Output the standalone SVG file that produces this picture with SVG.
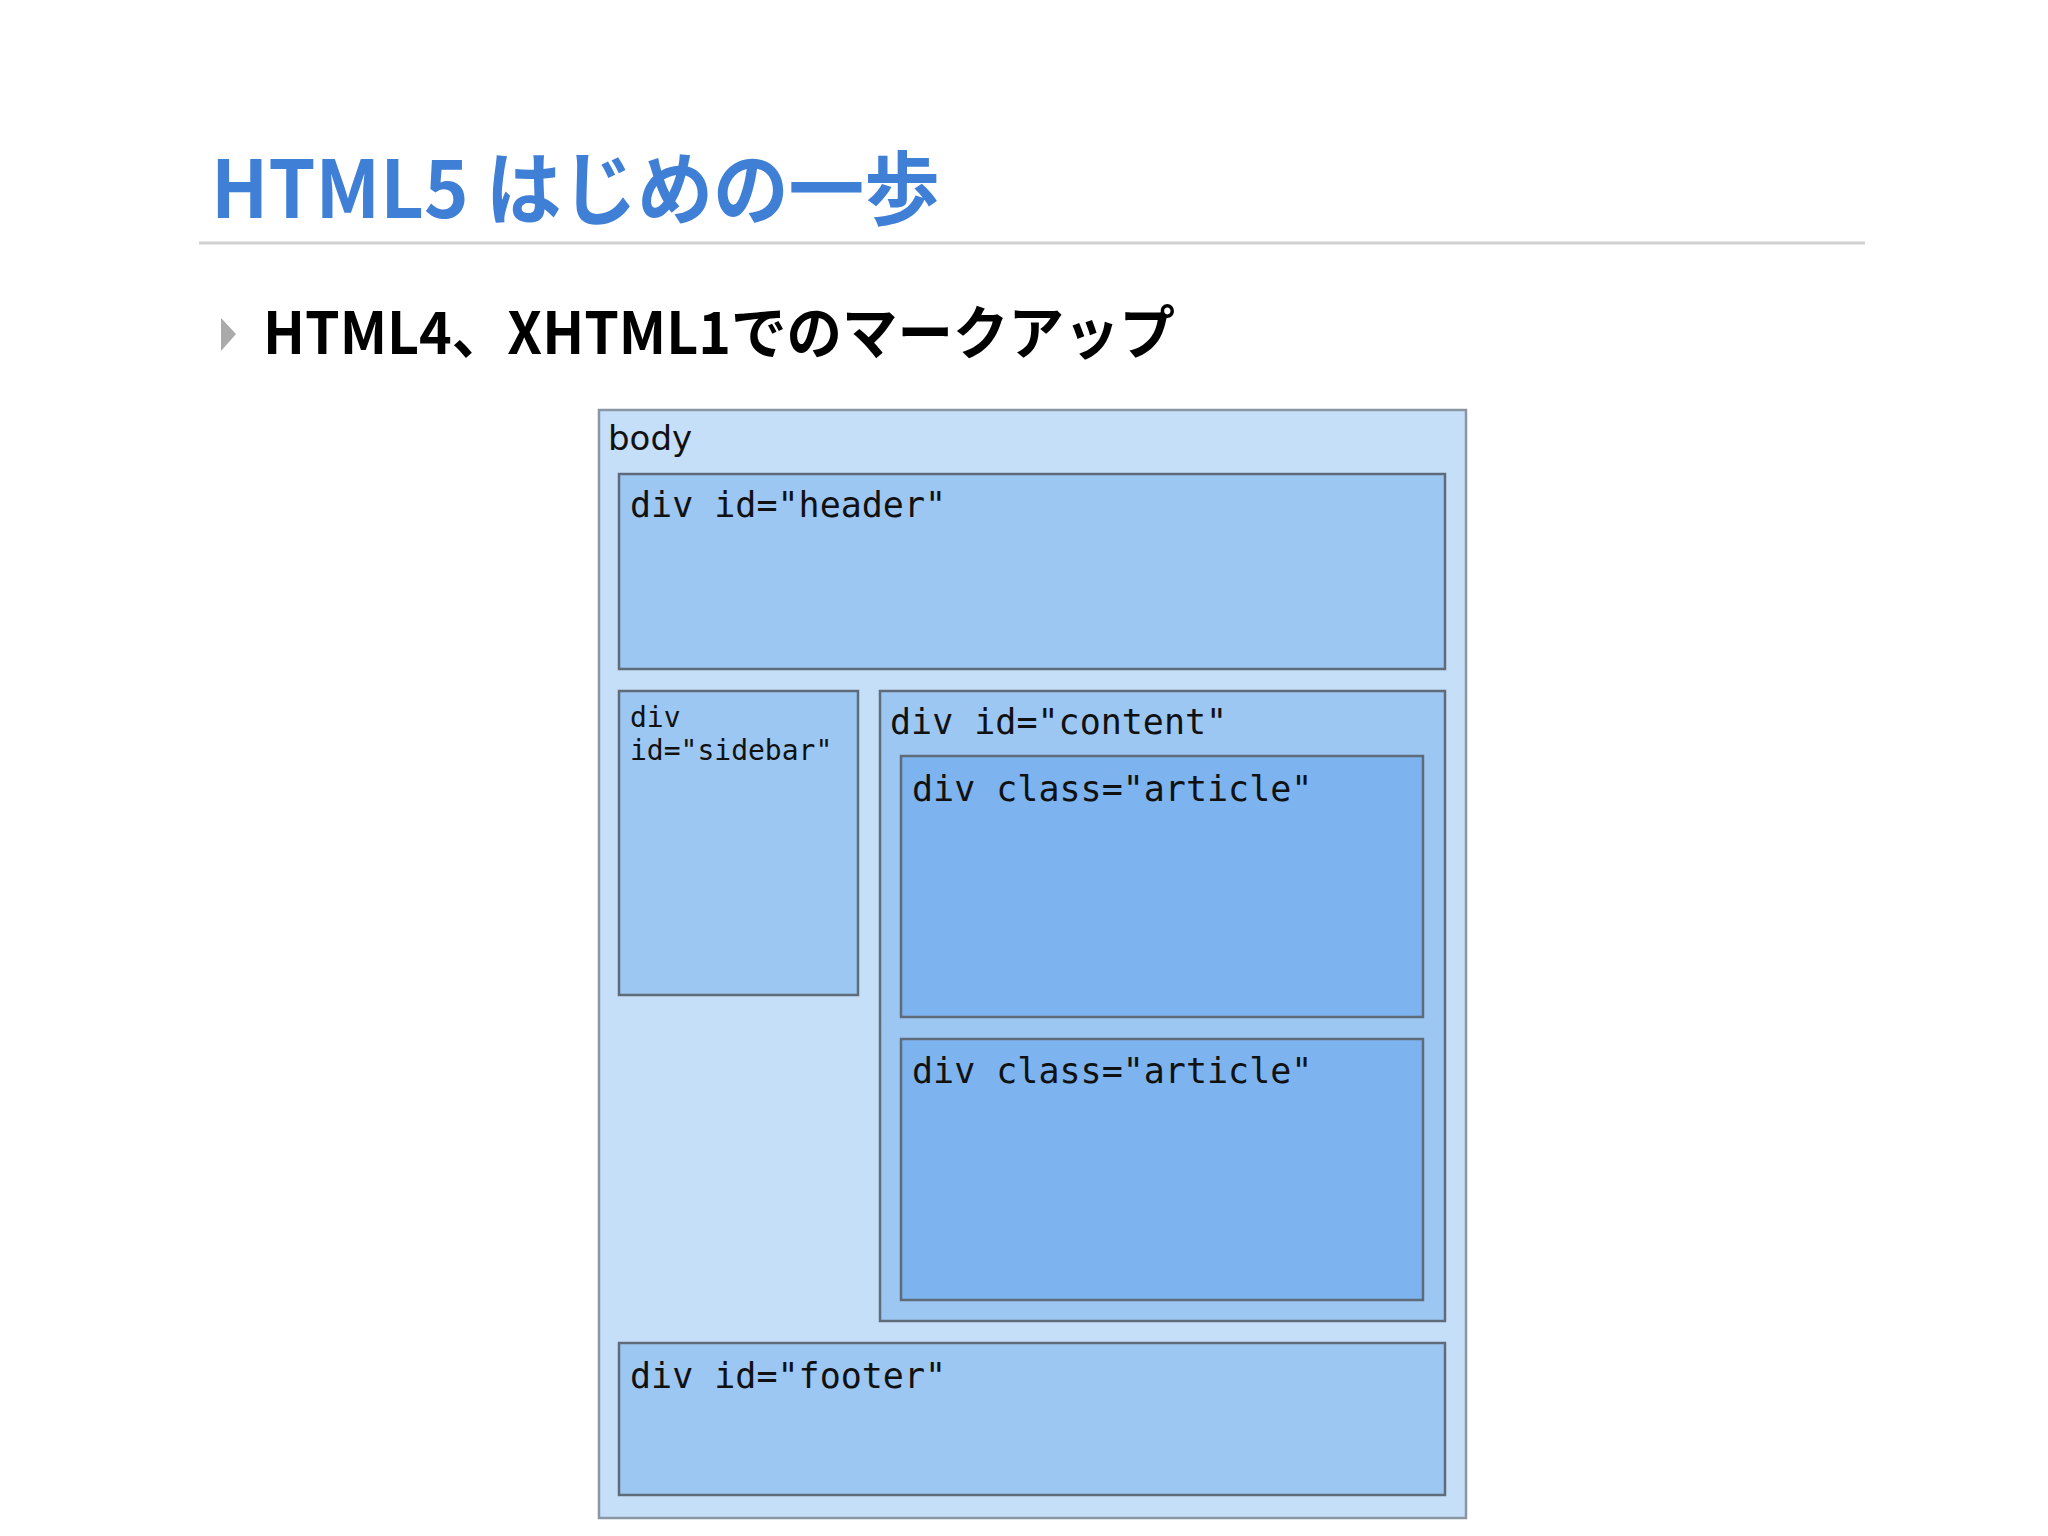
<svg xmlns="http://www.w3.org/2000/svg" width="2048" height="1536" viewBox="0 0 2048 1536">
<style>
.t{font-family:"Noto Sans CJK JP","Noto Sans",sans-serif;font-weight:bold}
.m{font-family:"DejaVu Sans Mono","Liberation Mono",monospace;fill:#111}
.box{stroke:#5f6b78;stroke-width:2.5}
</style>
<rect width="2048" height="1536" fill="#fff"/>
<text class="t" x="211" y="218" font-size="80" fill="#3f7fd6" textLength="729" lengthAdjust="spacingAndGlyphs">HTML5 はじめの一歩</text>
<line x1="199" y1="243" x2="1865" y2="243" stroke="#d0d0d0" stroke-width="3"/>
<polygon points="221,318 236,334 221,351" fill="#aaa"/>
<text class="t" x="263" y="354" font-size="58" fill="#000" textLength="912" lengthAdjust="spacingAndGlyphs">HTML4、XHTML1でのマークアップ</text>
<g id="body"><rect x="599" y="410" width="867" height="1108" fill="#c6dff8" stroke="#8a96a3" stroke-width="2.5"/>
<text x="608" y="450" font-family="DejaVu Sans,sans-serif" font-size="34" fill="#111">body</text></g>
<g id="header"><rect class="box" x="619" y="474" width="826" height="195" fill="#9dc7f3"/>
<text class="m" x="630" y="517" font-size="35">div id="header"</text></g>
<g id="sidebar"><rect class="box" x="619" y="691" width="239" height="304" fill="#9dc7f3"/>
<text class="m" x="630" y="727" font-size="28">div</text>
<text class="m" x="630" y="760" font-size="28">id="sidebar"</text></g>
<g id="content"><rect class="box" x="880" y="691" width="565" height="630" fill="#9dc7f3"/>
<text class="m" x="890" y="734" font-size="35">div id="content"</text></g>
<g id="article1"><rect class="box" x="901" y="756" width="522" height="261" fill="#7db4ef"/>
<text class="m" x="912" y="801" font-size="35">div class="article"</text></g>
<g id="article2"><rect class="box" x="901" y="1039" width="522" height="261" fill="#7db4ef"/>
<text class="m" x="912" y="1083" font-size="35">div class="article"</text></g>
<g id="footer"><rect class="box" x="619" y="1343" width="826" height="152" fill="#9dc7f3"/>
<text class="m" x="630" y="1388" font-size="35">div id="footer"</text></g>
<g id="connectors"/>
</svg>
